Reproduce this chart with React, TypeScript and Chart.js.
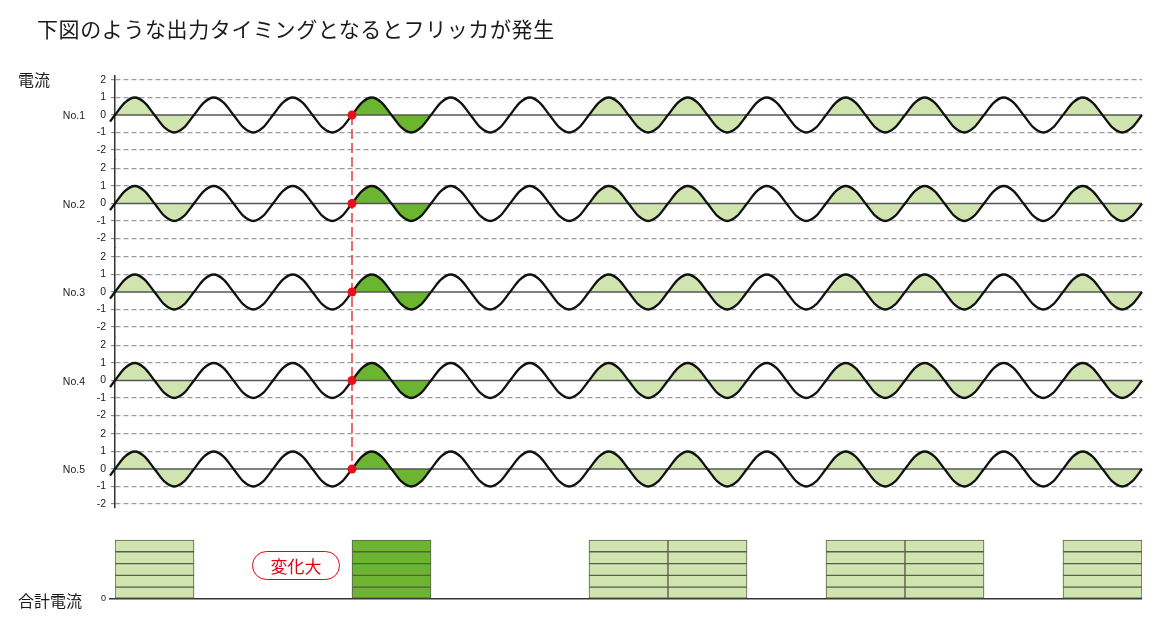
import React, { useEffect, useRef, useState } from 'react';
import { Chart, registerables } from 'chart.js';

Chart.register(...registerables);

// ---- data ----
const titleText = '下図のような出力タイミングとなるとフリッカが発生';
const panelLabels = ['No.1', 'No.2', 'No.3', 'No.4', 'No.5'];
const panelAxisIds = ['y1', 'y2', 'y3', 'y4', 'y5'];
const tickValues = [2, 1, 0, -1, -2];
const barTickValues = [0];
const periodLabels = ['1', '2', '3', '4', '5', '6', '7', '8', '9', '10', '11', '12', '13'];
// one period of the current waveform, read every 1/8 period
const waveCycle = [0, 0.71, 1, 0.71, 0, -0.71, -1, -0.71];
// curve stubs just outside the axis range on both ends
const waveEdgeX = [-0.0625, 13.0625];
const waveEdgeY = [-0.38, 0.38];
// which periods are conducting: light = normal, dark = all units switch at once
const periodShading = ['light', 'none', 'none', 'dark', 'none', 'none', 'light', 'light', 'none', 'light', 'light', 'none', 'light'];
// summed current per period (number of stacked unit blocks)
const totalCurrent = [5, 0, 0, 5, 0, 0, 5, 5, 0, 5, 5, 0, 5];
const markerX = [3];
const markerY = [0];

// ---- styles ----
const LIGHT = '#cfe4af';
const DARK = '#6cb530';
const BAR_BORDER = '#5a5c4c';
const panelWeights = [83.25, 88.5, 88.5, 88.5, 83.25];
const barWeight = 91;
const panelRanges = [
  [-2.53, 2.23],
  [-2.53, 2.53],
  [-2.53, 2.53],
  [-2.53, 2.53],
  [-2.23, 2.53],
];

function cyclePoints(from: number, to: number) {
  const pts: { x: number; y: number }[] = [];
  const n = waveCycle.length;
  for (let k = from; k < to; k++) {
    for (let j = 0; j < n; j++) pts.push({ x: k + j / n, y: waveCycle[j] });
  }
  pts.push({ x: to, y: waveCycle[0] });
  return pts;
}

function shadingRuns() {
  const runs: { from: number; to: number; kind: string }[] = [];
  let i = 0;
  while (i < periodShading.length) {
    const kind = periodShading[i];
    if (kind === 'none') { i++; continue; }
    let j = i;
    while (j + 1 < periodShading.length && periodShading[j + 1] === kind) j++;
    runs.push({ from: i, to: j + 1, kind });
    i = j + 1;
  }
  return runs;
}

const tickFont = { family: '"Liberation Sans", Arial, sans-serif', size: 10.5 };

export default function App() {
  const canvasRef = useRef<HTMLCanvasElement | null>(null);
  const [rowY, setRowY] = useState<number[]>([]);

  useEffect(() => {
    const canvas = canvasRef.current;
    if (!canvas) return;

    const datasets: any[] = [];
    const runs = shadingRuns();
    const nPeriods = periodLabels.length;
    const fullWave = [
      { x: waveEdgeX[0], y: waveEdgeY[0] },
      ...cyclePoints(0, nPeriods),
      { x: waveEdgeX[1], y: waveEdgeY[1] },
    ];

    panelAxisIds.forEach((axisId) => {
      runs.forEach((r) => {
        datasets.push({
          type: 'line',
          data: cyclePoints(r.from, r.to),
          xAxisID: 'x',
          yAxisID: axisId,
          borderWidth: 0,
          borderColor: 'rgba(0,0,0,0)',
          backgroundColor: r.kind === 'dark' ? DARK : LIGHT,
          fill: 'origin',
          pointRadius: 0,
          cubicInterpolationMode: 'monotone',
          order: 4,
        });
      });
      datasets.push({
        type: 'line',
        data: [{ x: 0, y: 0 }, { x: nPeriods, y: 0 }],
        xAxisID: 'x',
        yAxisID: axisId,
        borderColor: '#555555',
        borderWidth: 1.5,
        pointRadius: 0,
        fill: false,
        order: 3,
      });
      datasets.push({
        type: 'line',
        data: fullWave,
        xAxisID: 'x',
        yAxisID: axisId,
        borderColor: '#111111',
        borderWidth: 2.3,
        pointRadius: 0,
        fill: false,
        cubicInterpolationMode: 'monotone',
        clip: false,
        order: 2,
      });
      datasets.push({
        type: 'line',
        data: markerX.map((x, i) => ({ x, y: markerY[i] })),
        xAxisID: 'x',
        yAxisID: axisId,
        showLine: false,
        pointRadius: 4.5,
        pointBackgroundColor: '#e8101c',
        pointBorderWidth: 0,
        clip: false,
        order: 1,
      });
    });

    for (let layer = 0; layer < 5; layer++) {
      datasets.push({
        type: 'bar',
        data: totalCurrent.map((v) => (v > layer ? 1 : null)),
        xAxisID: 'xBar',
        yAxisID: 'yBar',
        stack: 'total',
        grouped: false,
        backgroundColor: periodShading.map((s) => (s === 'dark' ? DARK : LIGHT)),
        borderColor: BAR_BORDER,
        borderWidth: 1,
        borderSkipped: false,
        barPercentage: 1,
        categoryPercentage: 1,
        order: 5,
      });
    }

    const scales: any = {
      x: { type: 'linear', min: 0, max: nPeriods, display: false },
      xBar: { type: 'category', labels: periodLabels, offset: true, display: false, stacked: true },
      yBar: {
        type: 'linear',
        position: 'left',
        stack: 'rows',
        stackWeight: barWeight,
        weight: 1,
        stacked: true,
        min: 0,
        max: 7.71,
        afterBuildTicks: (s: any) => { s.ticks = barTickValues.map((v) => ({ value: v })); },
        afterFit: (s: any) => { s.width = 40; },
        grid: { color: '#333333', lineWidth: 1.5, drawTicks: true, tickLength: 6, tickColor: '#333333' },
        border: { display: false },
        ticks: { color: '#222222', font: { ...tickFont, size: 9 }, padding: 3, autoSkip: false },
      },
    };
    panelAxisIds.forEach((id, i) => {
      scales[id] = {
        type: 'linear',
        position: 'left',
        stack: 'rows',
        stackWeight: panelWeights[i],
        weight: 10 - i,
        min: panelRanges[i][0],
        max: panelRanges[i][1],
        afterBuildTicks: (s: any) => { s.ticks = tickValues.map((v) => ({ value: v })); },
        afterFit: (s: any) => { s.width = 40; },
        grid: {
          color: (ctx: any) => (ctx.tick && ctx.tick.value === 0 ? 'rgba(0,0,0,0)' : '#9c9c9c'),
          lineWidth: 1.3,
          drawTicks: true,
          tickLength: 4,
          tickColor: '#777777',
          tickWidth: 1,
        },
        border: { display: true, color: '#333333', width: 1.5, dash: [5, 3] },
        ticks: { color: '#222222', font: tickFont, padding: 5, autoSkip: false, maxRotation: 0 },
      };
    });

    const markerLine = {
      id: 'markerLine',
      beforeDatasetsDraw(chart: any) {
        const ctx = chart.ctx;
        const x = chart.scales.x.getPixelForValue(markerX[0]);
        const yTop = chart.scales[panelAxisIds[0]].getPixelForValue(markerY[0]);
        const yBot = chart.scales[panelAxisIds[panelAxisIds.length - 1]].getPixelForValue(markerY[0]);
        ctx.save();
        ctx.strokeStyle = '#e63c3f';
        ctx.lineWidth = 1.5;
        ctx.setLineDash([10, 4]);
        ctx.beginPath();
        ctx.moveTo(x, yTop);
        ctx.lineTo(x, yBot);
        ctx.stroke();
        ctx.restore();
      },
    };

    const chart = new Chart(canvas, {
      type: 'line',
      data: { datasets },
      options: {
        animation: false,
        responsive: false,
        devicePixelRatio: 1,
        events: [],
        layout: { padding: { left: 75, right: 14, top: 76, bottom: 18 } },
        plugins: { legend: { display: false }, tooltip: { enabled: false }, title: { display: false } },
        scales,
      },
      plugins: [markerLine],
    } as any);

    setRowY(panelAxisIds.map((id) => (chart.scales as any)[id].getPixelForValue(0)));

    return () => chart.destroy();
  }, []);

  const jp = '"Noto Sans CJK JP", "Noto Sans", sans-serif';

  return (
    <div style={{ position: 'fixed', left: 0, top: 0, width: 1156, height: 617, background: '#ffffff', overflow: 'hidden' }}>
      <canvas ref={canvasRef} width={1156} height={617} style={{ position: 'absolute', left: 0, top: 0, width: 1156, height: 617 }} />
      <div style={{ position: 'absolute', left: 37, top: 16, fontFamily: jp, fontSize: 21, lineHeight: '24px', color: '#1a1a1a', letterSpacing: 0.6, whiteSpace: 'nowrap' }}>
        {titleText}
      </div>
      <div style={{ position: 'absolute', left: 18, top: 70, fontFamily: jp, fontSize: 16, lineHeight: '18px', color: '#1a1a1a', whiteSpace: 'nowrap' }}>
        電流
      </div>
      <div style={{ position: 'absolute', left: 18, top: 591, fontFamily: jp, fontSize: 16, lineHeight: '18px', color: '#1a1a1a', whiteSpace: 'nowrap' }}>
        合計電流
      </div>
      {rowY.map((y, i) => (
        <div key={panelLabels[i]} style={{ position: 'absolute', left: 0, width: 85, top: y - 7, textAlign: 'right', fontFamily: '"Liberation Sans", Arial, sans-serif', fontSize: 10.5, lineHeight: '14px', color: '#222222' }}>
          {panelLabels[i]}
        </div>
      ))}
      <div style={{ position: 'absolute', left: 252, top: 551, width: 86, height: 27, border: '1.5px solid #e60012', borderRadius: 15, boxSizing: 'content-box', display: 'flex', alignItems: 'center', justifyContent: 'center', fontFamily: jp, fontSize: 17, color: '#e60012', background: '#ffffff' }}>
        変化大
      </div>
    </div>
  );
}
